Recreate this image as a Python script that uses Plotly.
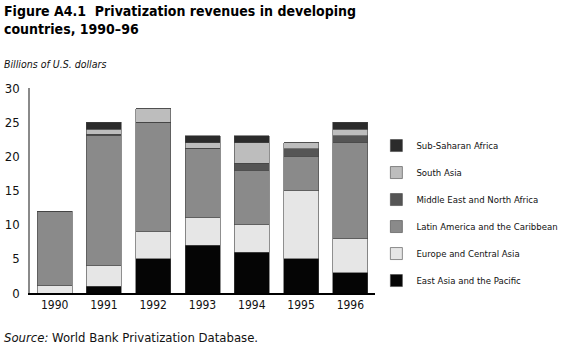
import plotly.graph_objects as go

years = ["1990", "1991", "1992", "1993", "1994", "1995", "1996"]
east_asia = [0, 1, 5, 7, 6, 5, 3]
europe = [1.1, 3, 4, 4, 4, 10, 5]
latin = [10.9, 19, 16, 10.2, 8, 5, 14]
mideast = [0, 0.2, 0, 0, 1, 1.1, 1]
south_asia = [0, 0.8, 2, 0.8, 3, 0.9, 1]
subsaharan = [0, 1, 0, 1, 1, 0, 1]

series = [
    ("East Asia and the Pacific", east_asia, "#050505"),
    ("Europe and Central Asia", europe, "#e6e6e6"),
    ("Latin America and the Caribbean", latin, "#8a8a8a"),
    ("Middle East and North Africa", mideast, "#555555"),
    ("South Asia", south_asia, "#bdbdbd"),
    ("Sub-Saharan Africa", subsaharan, "#2b2b2b"),
]

FONT = "DejaVu Sans Condensed, Liberation Sans Narrow, Liberation Sans, Arial, sans-serif"

fig = go.Figure()
n = len(series)
for i, (name, vals, col) in enumerate(series):
    fig.add_trace(go.Bar(
        x=years, y=vals, name=name, legendgroup=name, legendrank=n - i,
        marker=dict(color=col, line=dict(color="#444444", width=0.6)),
    ))

fig.update_layout(
    width=566, height=346,
    barmode="stack", bargap=0.29,
    paper_bgcolor="white", plot_bgcolor="white",
    margin=dict(l=30, r=191, t=88, b=53, autoexpand=False),
    font=dict(family=FONT, color="#111111", size=12),
    legend=dict(
        x=1.004, xanchor="left", y=0.79, yanchor="top",
        traceorder="grouped", tracegroupgap=8,
        font=dict(family=FONT, size=9.5, color="#111111"),
        bgcolor="rgba(0,0,0,0)",
    ),
    xaxis=dict(
        showline=True, linecolor="#000000", linewidth=1.5,
        ticks="", tickfont=dict(size=12), showgrid=False, automargin=False,
    ),
    yaxis=dict(
        range=[0, 30], dtick=5, showline=True, linecolor="#8a8a8a", linewidth=1.5,
        showgrid=False, zeroline=False, ticks="", ticklabelstandoff=6,
        tickfont=dict(size=13), automargin=False,
    ),
    annotations=[
        dict(text="<b>Figure A4.1  Privatization revenues in developing<br>countries, 1990–96</b>",
             xref="paper", yref="paper", x=-0.081, y=1.425, xanchor="left", yanchor="top",
             align="left", showarrow=False, font=dict(size=14, color="#000000")),
        dict(text="<i>Billions of U.S. dollars</i>", xref="paper", yref="paper",
             x=-0.081, y=1.117, xanchor="left", yanchor="middle", showarrow=False,
             font=dict(size=10.5)),
        dict(text="<i>Source:</i> World Bank Privatization Database.", xref="paper", yref="paper",
             x=-0.081, y=-0.215, xanchor="left", yanchor="middle", showarrow=False,
             font=dict(size=13)),
    ],
)

fig.write_html("out.html")
